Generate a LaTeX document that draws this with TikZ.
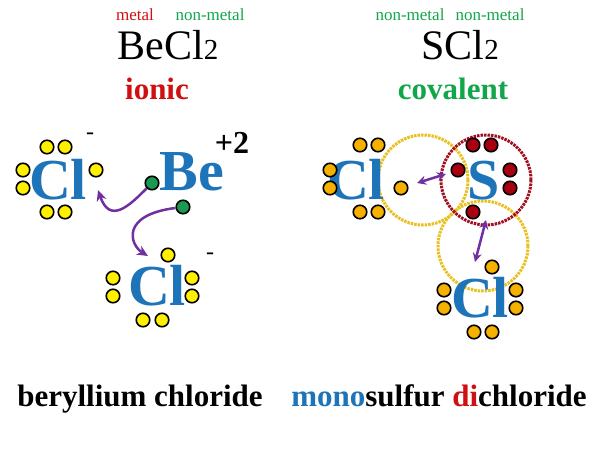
\documentclass[tikz,border=0pt]{standalone}
\usepackage{fontspec}
\setmainfont{Liberation Serif}
\usetikzlibrary{arrows.meta}
\definecolor{elblue}{HTML}{1E74B8}
\definecolor{grn}{HTML}{11A64A}
\definecolor{redt}{HTML}{D01010}
\definecolor{ydot}{HTML}{FFF000}
\definecolor{odot}{HTML}{F5B000}
\definecolor{rdot}{HTML}{A80010}
\definecolor{gdot}{HTML}{1A9A50}
\definecolor{purp}{HTML}{7030A0}
\definecolor{ycirc}{HTML}{E8C020}
\definecolor{rcirc}{HTML}{A01020}
\tikzset{
 dot/.style={circle,draw=black,line width=1.6pt,minimum size=13.5pt,inner sep=0pt},
 yd/.style={dot,fill=ydot}, od/.style={dot,fill=odot}, rd/.style={dot,fill=rdot}, gd/.style={dot,fill=gdot},
 el/.style={font=\fontsize{58}{58}\selectfont\bfseries,text=elblue,inner sep=0pt},
 small/.style={font=\fontsize{17}{17}\selectfont,inner sep=0pt},
 title/.style={font=\fontsize{42}{42}\selectfont,inner sep=0pt},
 lab/.style={font=\fontsize{31}{31}\selectfont\bfseries,inner sep=0pt},
 arr/.style={purp,line width=2.5pt,-{Stealth[length=11pt,width=10pt]}},
 darr/.style={purp,line width=2.5pt,{Stealth[length=9pt,width=9pt]}-{Stealth[length=9pt,width=9pt]}},
 orb/.style={dash pattern=on 2.5pt off 1pt,line width=3pt}
}
\begin{document}
\begin{tikzpicture}[x=1pt,y=-1pt]
\useasboundingbox (0,0) rectangle (600,450);
% top labels
\node[small,text=redt] (m1) at (135,15) {metal};
\node[small,text=grn] (n1) at (210,15) {non-metal};
\node[small,text=grn] (n2) at (410,15) {non-metal};
\node[small,text=grn] (n3) at (490,15) {non-metal};
\node[title] (f1) at (168,45) {BeCl{\fontsize{29}{29}\selectfont 2}};
\node[title] (f2) at (460,45) {SCl{\fontsize{29}{29}\selectfont 2}};
\node[lab,text=redt] (t1) at (157,89) {ionic};
\node[lab,text=grn] (t2) at (453,89) {covalent};
% orbits
\draw[orb,ycirc] (423,180) circle (45);
\draw[orb,ycirc] (483,246) circle (45);
\draw[orb,rcirc] (486,180) circle (45);
% left Cl
\node[el] (cl1) at (58,180) {Cl};
\node[yd] at (47,147) {}; \node[yd] at (65,147) {};
\node[yd] at (47,212) {}; \node[yd] at (65,212) {};
\node[yd] at (23,170) {}; \node[yd] at (23,188) {};
\node[yd] (c1r) at (96,170) {};
\node[font=\fontsize{24}{24}\selectfont,inner sep=0pt] (mn1) at (90,136) {-};
% Be
\node[el] (be) at (192,172) {Be};
\node[font=\fontsize{32}{32}\selectfont\bfseries,inner sep=0pt] (p2) at (232,143) {+2};
\node[gd] (g1) at (152,183) {};
\node[gd] (g2) at (183,207) {};
% Cl2
\node[el] (cl2) at (157,286) {Cl};
\node[yd] (c2t) at (168,255) {};
\node[yd] at (113,278) {}; \node[yd] at (113,296) {};
\node[yd] at (192,278) {}; \node[yd] at (192,296) {};
\node[yd] at (143,320) {}; \node[yd] at (162,320) {};
\node[font=\fontsize{24}{24}\selectfont,inner sep=0pt] (mn2) at (210,256) {-};
\coordinate (a1) at (98,190);
\coordinate (a2) at (148,256);
\draw[arr] (g1) .. controls (130,205) and (110,225) .. (a1);
\draw[arr] (g2) .. controls (120,215) and (130,245) .. (a2);
% SCl2
\node[el] (cl3) at (356,180) {Cl};
\node[od] at (360,145) {}; \node[od] at (378,145) {};
\node[od] at (360,212) {}; \node[od] at (378,212) {};
\node[od] at (330,170) {}; \node[od] at (330,188) {};
\node[od] (c3r) at (401,188) {};
\node[el] (s) at (484,181) {S};
\node[rd] at (473,145) {}; \node[rd] at (491,145) {};
\node[rd] (sl) at (458,170) {};
\node[rd] at (510,170) {}; \node[rd] at (510,188) {};
\node[rd] (sb) at (473,212) {};
\node[el] (cl4) at (480,298) {Cl};
\node[od] (c4t) at (492,267) {};
\node[od] at (444,290) {}; \node[od] at (444,308) {};
\node[od] at (516,290) {}; \node[od] at (516,308) {};
\node[od] at (474,332) {}; \node[od] at (492,332) {};
\coordinate (b1) at (417,183); \coordinate (b2) at (446,174);
\coordinate (b3) at (486,220); \coordinate (b4) at (475,262);
\draw[darr] (b1) -- (b2);
\draw[darr] (b3) -- (b4);
% bottom
\node[lab,anchor=base] (bn1) at (140,406) {beryllium chloride};
\node[lab,anchor=base] (bn2) at (439,406) {{\color{elblue}mono}sulfur {\color{redt}di}chloride};
\end{tikzpicture}
\end{document}
